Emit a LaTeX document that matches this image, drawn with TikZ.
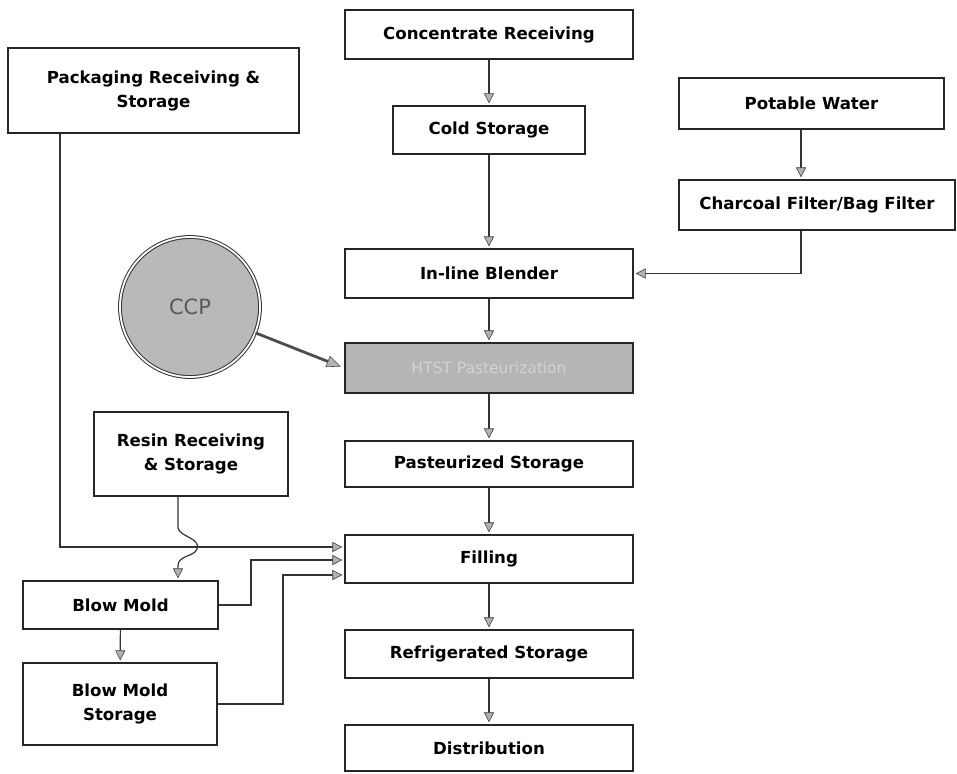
\documentclass[tikz,border=0pt]{standalone}
\usepackage{fontspec}
\setmainfont{DejaVu Sans}
\usetikzlibrary{arrows.meta,calc}
\begin{document}
\begin{tikzpicture}[x=1pt,y=-1pt,
  box/.style={draw=black!85, line width=1.2pt, fill=white, align=center, inner sep=0pt,
    font=\bfseries\fontsize{16.6}{24}\selectfont},
  arr/.style={draw=black!80, line width=1.2pt, shorten >=2pt,
    -{Triangle[length=10pt,width=10pt,fill=gray!60,color=black!75,line width=0.6pt]}}
]
\useasboundingbox (0,0) rectangle (957,773);

\node[box, minimum width=288pt, minimum height=49pt] (conc) at (489,34.5) {Concentrate Receiving};
\node[box, minimum width=192pt, minimum height=48pt] (cold) at (489,130) {Cold Storage};
\node[box, minimum width=291pt, minimum height=85pt] (pack) at (153.5,90.5) {Packaging Receiving \&\\Storage};
\node[box, minimum width=265pt, minimum height=51pt] (pot) at (811.5,103.5) {Potable Water};
\node[box, minimum width=276pt, minimum height=50pt] (char) at (817,205) {Charcoal Filter/Bag Filter};
\node[box, minimum width=288pt, minimum height=49pt] (blend) at (489,273.5) {In-line Blender};
\node[box, minimum width=288pt, minimum height=50pt, fill=gray!58,
  font=\fontsize{15.5}{18}\selectfont, text=gray!35] (htst) at (489,368) {HTST Pasteurization};
\node[box, minimum width=288pt, minimum height=46pt] (past) at (489,464) {Pasteurized Storage};
\node[box, minimum width=194pt, minimum height=84pt] (resin) at (191,454) {Resin Receiving\\\& Storage};
\node[box, minimum width=288pt, minimum height=48pt] (fill) at (489,559) {Filling};
\node[box, minimum width=195pt, minimum height=48pt] (blow) at (120.5,605) {Blow Mold};
\node[box, minimum width=288pt, minimum height=48pt] (refr) at (489,654) {Refrigerated Storage};
\node[box, minimum width=194pt, minimum height=82pt] (bms) at (120,704) {Blow Mold\\Storage};
\node[box, minimum width=288pt, minimum height=46pt] (dist) at (489,748) {Distribution};

\node[circle, minimum size=140pt, fill=gray!55, draw=black!80, line width=1pt,
  double=white, double distance=1.8pt, text=black!65,
  font=\fontsize{21}{24}\selectfont] (ccp) at (190,307) {CCP};

\coordinate (wx) at (801,0);
\coordinate (px) at (60,0);
\coordinate (rx) at (178,0);

\draw[arr] (conc) -- (cold);
\draw[arr] (cold) -- (blend);
\draw[arr] (pot.south -| wx) -- (char.north -| wx);
\draw[arr] (char.south -| wx) |- (blend.east);
\draw[arr] (blend) -- (htst);
\draw[arr] (htst) -- (past);
\draw[arr] (past) -- (fill);
\draw[arr] (fill) -- (refr);
\draw[arr] (refr) -- (dist);
\draw[arr] (blow) -- (bms);

\draw[draw=black!70, line width=2.8pt, shorten >=4pt,
  -{Triangle[length=14pt,width=12pt,fill=gray!60,color=black!70,line width=0.6pt]}] (ccp) -- (htst.west);

\draw[arr] (pack.south -| px) |- ($(fill.west)+(0,-12)$);
\draw[arr] (resin.south -| rx) -- (178,528)
  .. controls (180,537) and (201,538) .. (197,549)
  .. controls (194,557) and (178,555) .. (178,566) -- (blow.north -| rx);
\draw[arr] (blow.east) -| (251,560) -- ($(fill.west)+(0,1)$);
\draw[arr] (bms.east) -| (283,575) -- ($(fill.west)+(0,16)$);
\end{tikzpicture}
\end{document}
